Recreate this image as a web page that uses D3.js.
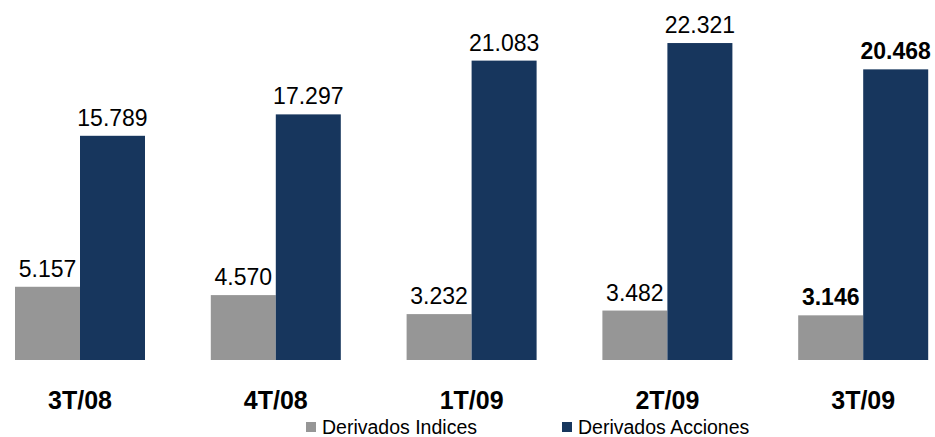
<!DOCTYPE html>
<html><head><meta charset="utf-8">
<script src="https://cdn.jsdelivr.net/npm/d3@7"></script>
<style>html,body{margin:0;padding:0;background:#fff;}svg{display:block;font-family:Arial,"Liberation Sans",sans-serif;}</style>
</head><body>
<svg id="c" width="935" height="437"></svg>
<script>
const categories = ["3T/08","4T/08","1T/09","2T/09","3T/09"];
const seriesNames = ["Derivados Indices","Derivados Acciones"];
const indices = [5.157, 4.570, 3.232, 3.482, 3.146];
const acciones = [15.789, 17.297, 21.083, 22.321, 20.468];
const valueLabelsIdx = ["5.157","4.570","3.232","3.482","3.146"];
const valueLabelsAcc = ["15.789","17.297","21.083","22.321","20.468"];
const colors = ["#969696","#17365d"];

const svg = d3.select("#c");
const x0 = d3.scaleBand().domain(categories).range([-17.9, 961.1]).padding(0);
const x1 = d3.scaleBand().domain(seriesNames).range([32.9, 162.9]).padding(0);
const y = d3.scaleLinear().domain([0, 25]).range([360, 5]);

const data = categories.map((c,i)=>({c, vals:[
  {s:seriesNames[0], v:indices[i], lab:valueLabelsIdx[i]},
  {s:seriesNames[1], v:acciones[i], lab:valueLabelsAcc[i]}], last: i===categories.length-1}));

const g = svg.selectAll("g.grp").data(data).enter().append("g")
  .attr("transform", d=>`translate(${x0(d.c)},0)`);
g.selectAll("rect").data(d=>d.vals).enter().append("rect")
  .attr("x", d=>x1(d.s)).attr("width", x1.bandwidth())
  .attr("y", d=>y(d.v)).attr("height", d=>y(0)-y(d.v))
  .attr("fill", (d,i)=>colors[i]);
g.selectAll("text.val").data(d=>d.vals.map(v=>({...v,last:d.last}))).enter().append("text")
  .attr("x", d=>x1(d.s)+x1.bandwidth()/2).attr("y", d=>y(d.v)-10)
  .attr("text-anchor","middle").attr("font-size","23px")
  .attr("font-weight", d=>d.last?"bold":"normal").attr("fill","#000")
  .text(d=>d.lab);

// category axis labels
const xa = d3.axisBottom(x0).tickSize(0).tickPadding(0);
const ax = svg.append("g").attr("transform","translate(0,360)").call(xa);
ax.select(".domain").remove();
ax.selectAll("text").attr("font-size","25px").attr("font-weight","bold")
  .attr("font-family","Arial, 'Liberation Sans', sans-serif").attr("fill","#000")
  .attr("dy",null).attr("y",49);

// legend
const legX = [306, 562];
const leg = svg.selectAll("g.leg").data(seriesNames).enter().append("g")
  .attr("transform",(d,i)=>`translate(${legX[i]},422)`);
leg.append("rect").attr("width",10).attr("height",10).attr("fill",(d,i)=>colors[i]);
leg.append("text").attr("x",16).attr("y",11.5).attr("font-size","19.5px").attr("fill","#000").text(d=>d);
</script>
</body></html>
